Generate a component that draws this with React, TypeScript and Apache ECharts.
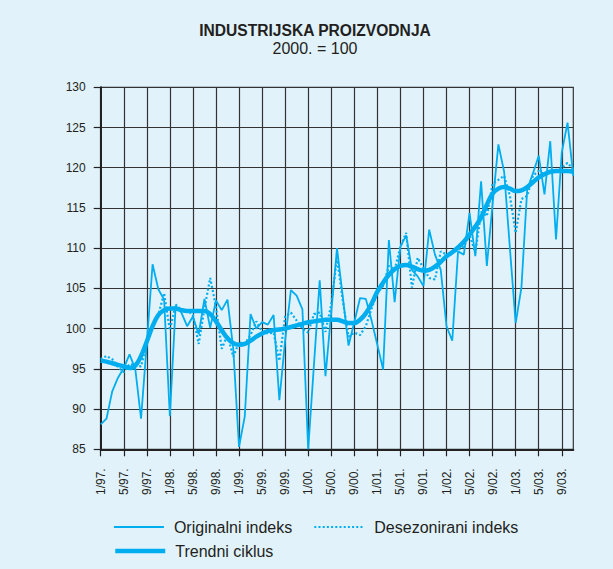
import React, { useEffect, useRef } from "react";
import * as echarts from "echarts";

const years = ["97", "98", "99", "00", "01", "02", "03"];
const lastMonthOfLastYear = 11;
const categories: string[] = [];
years.forEach((y, yi) => {
  const n = yi === years.length - 1 ? lastMonthOfLastYear : 12;
  for (let m = 1; m <= n; m++) categories.push(`${m}/${y}.`);
});

const original = [
  88.1, 88.8, 92.2, 93.9, 95.1, 96.8, 95.0, 88.8, 98.2, 108.0, 104.9, 103.6,
  89.1, 102.8, 102.0, 100.3, 101.5, 99.3, 103.7, 100.1, 103.5, 102.3, 103.6, 97.5,
  85.3, 89.1, 101.8, 100.0, 100.8, 100.5, 101.7, 91.1, 98.5, 104.8, 104.1, 102.4,
  85.0, 95.5, 106.0, 94.1, 102.0, 110.0, 104.0, 97.9, 100.8, 103.8, 103.7, 101.0,
  98.0, 94.9, 111.0, 103.3, 110.2, 111.6, 107.3, 106.5, 105.3, 112.3, 109.2, 107.3,
  100.3, 98.5, 109.6, 109.2, 114.4, 109.0, 118.3, 107.8, 115.5, 122.9, 119.5, 110.0,
  100.7, 105.1, 117.3, 119.3, 121.5, 116.7, 123.3, 111.1, 121.9, 125.6, 119.0,
];

const seasonallyAdjusted = [
  96.2, 96.6, 96.2, 95.2, 94.6, 95.6, 95.4, 95.3, 98.2, 100.5, 101.7, 104.4,
  99.8, 103.0, 102.3, 102.3, 101.7, 98.1, 102.5, 106.3, 102.7, 97.5, 99.2, 96.5,
  98.3, 98.1, 99.2, 100.9, 99.6, 99.4, 99.5, 96.0, 101.5, 102.0, 101.0, 100.0,
  99.5, 101.8, 102.0, 99.6, 103.0, 108.8, 103.5, 99.0, 99.5, 99.2, 100.3, 102.5,
  104.5, 105.3, 107.8, 107.3, 110.2, 111.9, 105.1, 108.8, 107.5, 106.3, 106.1, 109.6,
  109.2, 109.4, 109.8, 110.2, 111.7, 109.4, 114.5, 114.0, 118.0, 118.5, 119.0, 116.5,
  111.9, 116.1, 116.5, 119.0, 119.6, 119.2, 119.6, 119.4, 120.0, 120.6, 119.8,
];

const trend = [
  96.0, 95.9, 95.7, 95.5, 95.3, 95.1, 95.4, 96.6, 98.4, 100.3, 101.7, 102.3,
  102.5, 102.5, 102.3, 102.2, 102.2, 102.2, 102.2, 101.8, 100.9, 99.8, 98.8, 98.2,
  98.0, 98.1, 98.5, 99.0, 99.4, 99.7, 99.8, 99.9, 100.0, 100.2, 100.4, 100.6,
  100.8, 100.9, 101.0, 101.1, 101.1, 101.1, 100.9, 100.7, 100.7, 101.1, 101.9, 103.1,
  104.6, 105.7, 106.7, 107.4, 107.8, 107.9, 107.7, 107.4, 107.2, 107.3, 107.7, 108.3,
  109.0, 109.5, 110.1, 110.8, 111.7, 112.7, 113.8, 115.4, 116.8, 117.4, 117.6, 117.4,
  117.1, 117.2, 117.6, 118.2, 118.8, 119.2, 119.5, 119.6, 119.6, 119.6, 119.5,
];

const seriesNames = ["Originalni indeks", "Desezonirani indeks", "Trendni ciklus"];
const titleText = "INDUSTRIJSKA PROIZVODNJA";
const subtitleText = "2000. = 100";

const BLUE = "#00aeef";
const FONT = "'Liberation Sans', Arial, sans-serif";

export default function App() {
  const ref = useRef<HTMLDivElement>(null);
  useEffect(() => {
    if (!ref.current) return;
    const chart = echarts.init(ref.current, null, { renderer: "svg" });
    const legendCommon = {
      left: 108,
      itemWidth: 50,
      itemHeight: 14,
      itemGap: 21,
      itemStyle: { opacity: 0 },
      lineStyle: { width: "inherit", type: "inherit" },
      textStyle: { fontSize: 16, color: "#231f20", fontFamily: FONT, padding: [0, 0, 0, 5] },
    };
    chart.setOption({
      animation: false,
      backgroundColor: "#e1f2fb",
      textStyle: { fontFamily: FONT },
      title: [
        {
          text: titleText,
          left: 310,
          top: 17,
          textAlign: "center",
          textStyle: { fontSize: 15.6, fontWeight: "bold", color: "#231f20", fontFamily: FONT },
        },
        {
          text: subtitleText,
          left: 310,
          top: 35,
          textAlign: "center",
          textStyle: { fontSize: 16, fontWeight: "normal", color: "#231f20", fontFamily: FONT },
        },
      ],
      legend: [
        { ...legendCommon, data: [seriesNames[0], seriesNames[1]], top: 514 },
        { ...legendCommon, data: [seriesNames[2]], top: 538 },
      ],
      grid: {
        left: 100.7,
        right: 39.7,
        top: 87.3,
        bottom: 119.7,
        show: true,
        borderColor: "#333",
        borderWidth: 1.2,
        backgroundColor: "transparent",
        containLabel: false,
        outerBoundsMode: "none",
      },
      xAxis: {
        type: "category",
        data: categories,
        boundaryGap: false,
        axisLine: { show: true, lineStyle: { color: "#222", width: 2 } },
        axisTick: { show: true, interval: 3, length: 7, lineStyle: { color: "#222", width: 1.2 } },
        axisLabel: {
          interval: 3,
          rotate: 90,
          margin: 19,
          fontSize: 12,
          color: "#231f20",
          fontFamily: FONT,
        },
        splitLine: { show: true, interval: 3, lineStyle: { color: "#333", width: 1.2 } },
      },
      yAxis: {
        type: "value",
        min: 85,
        max: 130,
        interval: 5,
        axisLine: { show: true, lineStyle: { color: "#222", width: 2 } },
        axisTick: { show: true, length: 7, lineStyle: { color: "#222", width: 1.2 } },
        axisLabel: { margin: 15, fontSize: 12, color: "#231f20", fontFamily: FONT },
        splitLine: { show: true, lineStyle: { color: "#333", width: 1.2 } },
      },
      series: [
        {
          name: seriesNames[0],
          type: "line",
          data: original,
          symbol: "none",
          lineStyle: { color: BLUE, width: 1.8 },
          itemStyle: { color: BLUE },
          z: 3,
        },
        {
          name: seriesNames[1],
          type: "line",
          data: seasonallyAdjusted,
          symbol: "none",
          lineStyle: { color: BLUE, width: 2.2, type: [2, 2.2] },
          itemStyle: { color: BLUE },
          z: 2,
        },
        {
          name: seriesNames[2],
          type: "line",
          data: trend,
          symbol: "none",
          smooth: 0.4,
          lineStyle: { color: BLUE, width: 4.5 },
          itemStyle: { color: BLUE },
          z: 4,
        },
      ],
    });
    return () => chart.dispose();
  }, []);
  return (
    <div
      ref={ref}
      style={{ position: "absolute", left: 0, top: 0, width: 613, height: 569 }}
    />
  );
}
